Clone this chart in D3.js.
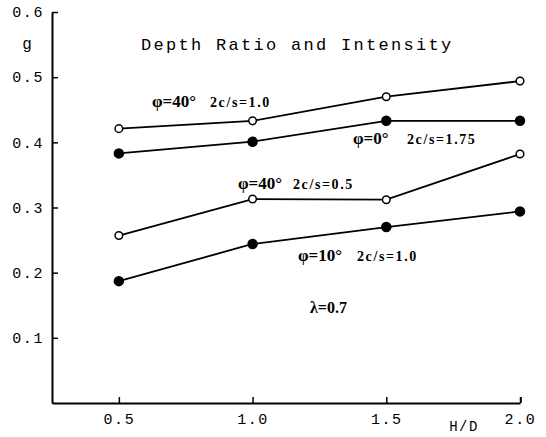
<!DOCTYPE html>
<html>
<head>
<meta charset="utf-8">
<script src="https://cdn.jsdelivr.net/npm/d3@7"></script>
<style>
  body { margin: 0; background: #fff; }
  .mono { font-family: "Liberation Mono", "DejaVu Sans Mono", monospace; }
  .note { font-family: "Liberation Serif", "DejaVu Serif", serif; fill: #000; }
</style>
</head>
<body>
<div id="chart"></div>
<script>
// values
var hd = [0.5, 1.0, 1.5, 2.0];
var phi40cs10 = [0.421, 0.433, 0.470, 0.494];   // open
var phi0cs175 = [0.383, 0.401, 0.433, 0.433];   // filled
var phi40cs05 = [0.257, 0.313, 0.312, 0.382];   // open
var phi10cs10 = [0.187, 0.244, 0.270, 0.294];   // filled
var yTicks = [0.1, 0.2, 0.3, 0.4, 0.5, 0.6];

var series = [
  {values: phi40cs10, open: true},
  {values: phi0cs175, open: false},
  {values: phi40cs05, open: true},
  {values: phi10cs10, open: false}
];

var svgWidth = 546;
var svgHeight = 437;

var svg = d3.select("#chart")
  .append("svg")
  .attr("width", svgWidth)
  .attr("height", svgHeight);

// scales
var xScale = d3.scaleLinear()
  .domain([0.25, 2.0])
  .range([52, 520]);

var yScale = d3.scaleLinear()
  .domain([0, 0.6])
  .range([403, 12]);

// axes
var bottomAxis = d3.axisBottom(xScale)
  .tickValues(hd)
  .tickFormat(d3.format(".1f"))
  .tickSizeInner(-6)
  .tickSizeOuter(0)
  .tickPadding(10);

var leftAxis = d3.axisLeft(yScale)
  .tickValues(yTicks)
  .tickFormat(d3.format(".1f"))
  .tickSizeInner(-6)
  .tickSizeOuter(0)
  .tickPadding(8);

var xg = svg.append("g")
  .attr("transform", "translate(0," + yScale(0) + ")")
  .call(bottomAxis);

var yg = svg.append("g")
  .attr("transform", "translate(" + xScale(0.25) + ",0)")
  .call(leftAxis);

[xg, yg].forEach(function(g) {
  g.attr("font-family", null).attr("font-size", null);
  g.select(".domain").attr("stroke", "#000").attr("stroke-width", 2);
  g.selectAll(".tick line").attr("stroke", "#000").attr("stroke-width", 1.5);
  g.selectAll(".tick text")
    .attr("class", "mono")
    .style("font-size", "15px")
    .style("letter-spacing", "1.6px")
    .attr("fill", "#000");
});

// small hook at the end of the x axis
xg.append("line")
  .attr("x1", xScale(2.0) + 1).attr("x2", xScale(2.0) + 1)
  .attr("y1", 0).attr("y2", -6)
  .attr("stroke", "#000").attr("stroke-width", 1.5);

// axis labels
svg.append("text")
  .attr("class", "mono")
  .attr("x", 27)
  .attr("y", 49)
  .attr("text-anchor", "middle")
  .style("font-size", "16px")
  .text("g");

svg.append("text")
  .attr("class", "mono")
  .attr("x", 464)
  .attr("y", 431)
  .attr("text-anchor", "middle")
  .style("font-size", "14px")
  .style("letter-spacing", "1.5px")
  .text("H/D");

// title
svg.append("text")
  .attr("class", "mono")
  .attr("x", 141)
  .attr("y", 50)
  .style("font-size", "17px")
  .style("letter-spacing", "2.3px")
  .text("Depth Ratio and Intensity");

// lines + markers
var line = d3.line()
  .x((d, i) => xScale(hd[i]))
  .y(d => yScale(d));

series.forEach(function(s) {
  svg.append("path")
    .datum(s.values)
    .attr("d", line)
    .attr("fill", "none")
    .attr("stroke", "#000")
    .attr("stroke-width", 1.8);

  svg.selectAll(null)
    .data(s.values)
    .enter()
    .append("circle")
    .attr("cx", (d, i) => xScale(hd[i]))
    .attr("cy", d => yScale(d))
    .attr("r", s.open ? 3.8 : 4.5)
    .attr("fill", s.open ? "#fff" : "#000")
    .attr("stroke", "#000")
    .attr("stroke-width", 1.5);
});

// annotations
var notes = [
  {phi: "\u03c6=40\u00b0", cs: "2c/s=1.0",  px: 152, cx: 210, y: 107},
  {phi: "\u03c6=0\u00b0",  cs: "2c/s=1.75", px: 353, cx: 407, y: 144},
  {phi: "\u03c6=40\u00b0", cs: "2c/s=0.5",  px: 238, cx: 293, y: 189},
  {phi: "\u03c6=10\u00b0", cs: "2c/s=1.0",  px: 298, cx: 357, y: 261}
];

notes.forEach(function(n) {
  svg.append("text")
    .attr("class", "note")
    .attr("x", n.px)
    .attr("y", n.y)
    .style("font-size", "17px")
    .style("font-weight", "bold")
    .text(n.phi);
  svg.append("text")
    .attr("class", "note")
    .attr("x", n.cx)
    .attr("y", n.y)
    .style("font-size", "14px")
    .style("font-weight", "bold")
    .style("letter-spacing", "1.6px")
    .text(n.cs);
});

svg.append("text")
  .attr("class", "note")
  .attr("x", 310)
  .attr("y", 313)
  .style("font-size", "16px")
  .style("font-weight", "bold")
  .text("\u03bb=0.7");
</script>
</body>
</html>
